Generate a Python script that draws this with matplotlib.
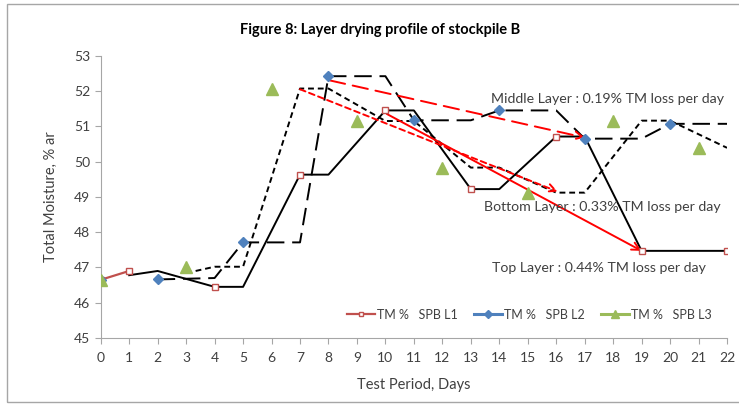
import numpy as np
import matplotlib.pyplot as plt
from matplotlib.patches import Rectangle

plt.rcParams['font.family'] = ['Lato', 'DejaVu Sans']

# Datos (dias con medicion; NaN = sin dato)
dias = list(range(0, 23))
nan = np.nan
tm_l1 = [46.65, 46.9, nan, nan, 46.45, nan, nan, 49.63, nan, nan, 51.45, nan,
         nan, 49.22, nan, nan, 50.71, nan, nan, 47.47, nan, nan, 47.47]
tm_l2 = [46.65, nan, 46.67, nan, nan, 47.71, nan, nan, 52.42, nan, nan, 51.17,
         nan, nan, 51.45, nan, nan, 50.65, nan, nan, 51.07, nan, nan]
tm_l3 = [46.65, nan, nan, 47.02, nan, nan, 52.07, nan, nan, 51.15, nan, nan,
         49.83, nan, nan, 49.12, nan, nan, 51.16, nan, nan, 50.39, nan]

# Tendencias (media movil)
tend1_x = [1, 2, 4, 5, 7, 8, 10, 11, 13, 14, 16, 17, 19, 20, 22]
tend1_y = [46.78, 46.9, 46.45, 46.45, 49.63, 49.63, 51.45, 51.45, 49.22, 49.22,
           50.71, 50.71, 47.47, 47.47, 47.47]
tend2_x = [2, 4, 5, 7, 8, 10, 11, 13, 14, 16, 17, 19, 20, 22]
tend2_y = [46.66, 46.7, 47.71, 47.71, 52.42, 52.42, 51.17, 51.17, 51.45, 51.45,
           50.65, 50.65, 51.07, 51.07]
tend3_x = [3, 4, 5, 7, 8, 10, 11, 13, 14, 16, 17, 19, 20, 22]
tend3_y = [46.84, 47.02, 47.02, 52.07, 52.07, 51.15, 51.15, 49.83, 49.83, 49.12,
           49.12, 51.16, 51.16, 50.39]

# Flechas de perdida por capa: (inicio, fin)
flecha_media = ((8.05, 52.3), (17.0, 50.68))
flecha_fondo = ((7.0, 52.05), (16.05, 49.15))
flecha_tope = ((10.05, 51.35), (19.0, 47.47))

etiquetas = ["TM %   SPB L1", "TM %   SPB L2", "TM %   SPB L3"]

fig = plt.figure(figsize=(7.39, 4.05), dpi=100)
ax = fig.add_axes([0.1363, 0.1654, 0.8475, 0.697])

# Borde del grafico
fig.patches.append(Rectangle((7 / 739, 3 / 405), 1.0, 398 / 405, transform=fig.transFigure,
                             fill=False, edgecolor='#a6a6a6', linewidth=1.0))

ax.plot(tend1_x, tend1_y, color='black', lw=1.4, zorder=2)
ax.plot(tend2_x, tend2_y, color='black', lw=1.4, dashes=(9, 4), zorder=2)
ax.plot(tend3_x, tend3_y, color='black', lw=1.4, dashes=(3, 2), zorder=2)

ax.plot(dias, tm_l1, color='#C0504D', lw=1.6, marker='s', markersize=5,
        markerfacecolor='white', markeredgecolor='#C0504D', label=etiquetas[0], zorder=4)
ax.plot(dias, tm_l2, color='#4F81BD', lw=2.2, marker='D', markersize=5.5,
        markerfacecolor='#4F81BD', markeredgecolor='#4F81BD', label=etiquetas[1], zorder=4)
ax.plot(dias, tm_l3, color='#9BBB59', lw=2.2, marker='^', markersize=9,
        markerfacecolor='#9BBB59', markeredgecolor='#9BBB59', label=etiquetas[2], zorder=4)

for (ini, fin), estilo in [(flecha_media, (0, (8, 4))),
                           (flecha_fondo, (0, (3, 2))),
                           (flecha_tope, '-')]:
    ax.annotate('', xy=fin, xytext=ini,
                arrowprops=dict(arrowstyle='->', color='red', lw=1.4,
                                linestyle=estilo, shrinkA=0, shrinkB=0,
                                mutation_scale=14), zorder=3)

ax.text(13.72, 51.77, "Middle Layer : 0.19% TM loss per day", fontsize=10.2,
        color='#404040', va='center', ha='left')
ax.text(13.45, 48.70, "Bottom Layer : 0.33% TM loss per day", fontsize=10.2,
        color='#404040', va='center', ha='left')
ax.text(13.76, 46.98, "Top Layer : 0.44% TM loss per day", fontsize=10.2,
        color='#404040', va='center', ha='left')

ax.set_xlim(0, 22)
ax.set_ylim(45, 53)
ax.set_xticks(range(0, 23))
ax.set_yticks(range(45, 54))
ax.spines['top'].set_visible(False)
ax.spines['right'].set_visible(False)
ax.spines['left'].set_color('#a6a6a6')
ax.spines['bottom'].set_color('#a6a6a6')
ax.tick_params(direction='out', length=4, color='#a6a6a6', labelsize=10,
               labelcolor='#404040')
ax.tick_params(axis='x', pad=6)

ax.set_xlabel("Test Period, Days", fontsize=10.5, color='#404040', labelpad=10)
ax.set_ylabel("Total Moisture, % ar", fontsize=10.5, color='#404040', labelpad=12)
fig.text(380 / 739, 1 - 30 / 405, "Figure 8: Layer drying profile of stockpile B",
         fontsize=10.5, fontweight='bold', ha='center', va='center', color='black')

ax.legend(loc='center right', bbox_to_anchor=(0.99, 0.082), ncol=3, frameon=False,
          fontsize=9, handlelength=2.2, columnspacing=1.3, handletextpad=0.2,
          borderpad=0.2, markerscale=0.7, labelcolor='#404040')

plt.savefig("out.png", dpi=100)
